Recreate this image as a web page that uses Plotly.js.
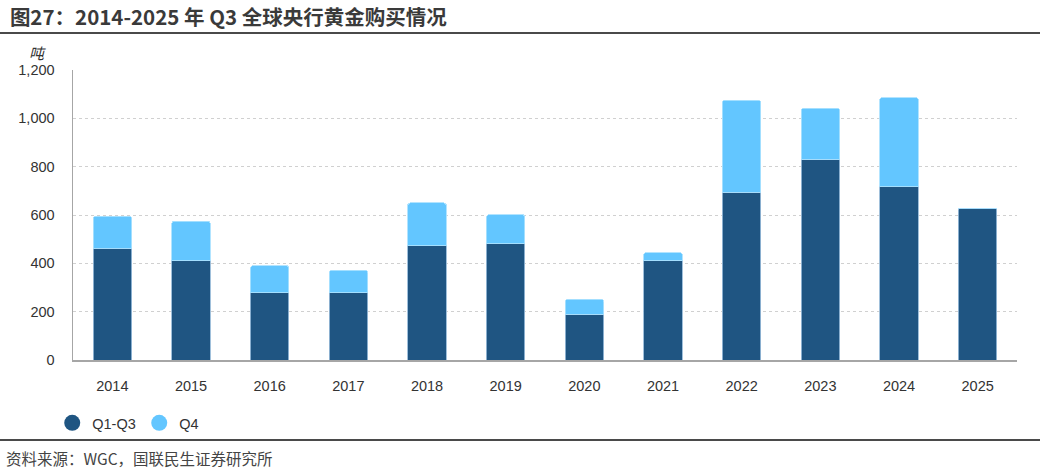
<!DOCTYPE html>
<html>
<head>
<meta charset="utf-8">
<script src="https://cdn.plot.ly/plotly-3.0.1.min.js"></script>
<style>html,body{margin:0;padding:0;background:#fff;}#chart{width:1040px;height:469px;}</style>
</head>
<body>
<div id="chart"></div>
<script>
const years = ['2014','2015','2016','2017','2018','2019','2020','2021','2022','2023','2024','2025'];
const q1q3 = [463, 411, 279, 279, 473, 482, 190, 411, 694, 830, 717, 628];
const q4   = [132, 163, 111, 92, 177, 119, 61, 33, 381, 212, 369, 0];
const yTicks = [0, 200, 400, 600, 800, 1000, 1200];
const yTickLabels = ['0', '200', '400', '600', '800', '1,000', '1,200'];

const darkBlue = '#1F5582';
const lightBlue = '#63C6FF';
const numFont = 'Liberation Sans';
const cjkFont = 'Noto Sans CJK SC';

const traces = [
  {type:'bar', x:years, y:q1q3, name:'Q1-Q3', showlegend:false,
   marker:{color:darkBlue, line:{color:'rgba(150,185,215,0.9)', width:1}}, width:0.49},
  {type:'bar', x:years, y:q4, name:'Q4', showlegend:false,
   marker:{color:lightBlue, line:{color:'rgba(170,225,255,0.9)', width:1}}, width:0.49},
  {type:'scatter', mode:'markers', x:[null], y:[null], name:'Q1-Q3',
   marker:{color:darkBlue, size:16, symbol:'circle'}},
  {type:'scatter', mode:'markers', x:[null], y:[null], name:'Q4',
   marker:{color:lightBlue, size:16, symbol:'circle'}}
];

const layout = {
  width:1040, height:469,
  margin:{l:73, r:23, t:70, b:109},
  paper_bgcolor:'#fff', plot_bgcolor:'#fff',
  barmode:'stack',
  barcornerradius:3,
  font:{family:numFont, size:14, color:'#333'},
  title:{text:'<b>图27：2014-2025 年 Q3 全球央行黄金购买情况</b>',
         font:{family:cjkFont, size:20.5, color:'#3a3a3a'},
         x:0.0095, xanchor:'left', xref:'container', y:0.963, yanchor:'middle', yref:'container'},
  xaxis:{type:'category', showgrid:false, showline:true, linecolor:'#a6a6a6', linewidth:1.5,
         ticks:'', ticklabelstandoff:12, tickfont:{family:numFont, size:14.5, color:'#333'}, fixedrange:true, automargin:false},
  yaxis:{range:[0,1200], tickvals:yTicks, ticktext:yTickLabels, showgrid:true,
         gridcolor:'#d0d0d0', griddash:'dot', gridwidth:1, showline:true, linecolor:'#a6a6a6', linewidth:1.5,
         zeroline:false, ticks:'', ticklabelstandoff:14, tickfont:{family:numFont, size:14.5, color:'#333'}, automargin:false},
  legend:{orientation:'h', traceorder:'normal', x:-0.022, xanchor:'left', y:-0.217, yanchor:'middle',
          font:{family:numFont, size:14.5, color:'#333'}, itemwidth:30, tracegroupgap:0,
          entrywidth:42, entrywidthmode:'pixels', bgcolor:'rgba(0,0,0,0)'},
  shapes:[
    {type:'line', xref:'paper', yref:'paper', x0:-0.08, x1:1.03, y0:1.1276, y1:1.1276,
     line:{color:'#4a4a4a', width:2}},
    {type:'line', xref:'paper', yref:'paper', x0:-0.08, x1:1.03, y0:-0.2759, y1:-0.2759,
     line:{color:'#4a4a4a', width:2}}
  ],
  annotations:[
    {text:'<i>吨</i>', xref:'paper', yref:'paper', x:-0.038, y:1.062, xanchor:'center', yanchor:'middle',
     showarrow:false, font:{family:cjkFont, size:15, color:'#333'}},
    {text:'资料来源：WGC，国联民生证券研究所', xref:'paper', yref:'paper', x:-0.0735, y:-0.338,
     xanchor:'left', yanchor:'middle', showarrow:false, font:{family:cjkFont, size:15.5, color:'#444'}}
  ]
};

Plotly.newPlot('chart', traces, layout, {displayModeBar:false, staticPlot:true});
</script>
</body>
</html>
